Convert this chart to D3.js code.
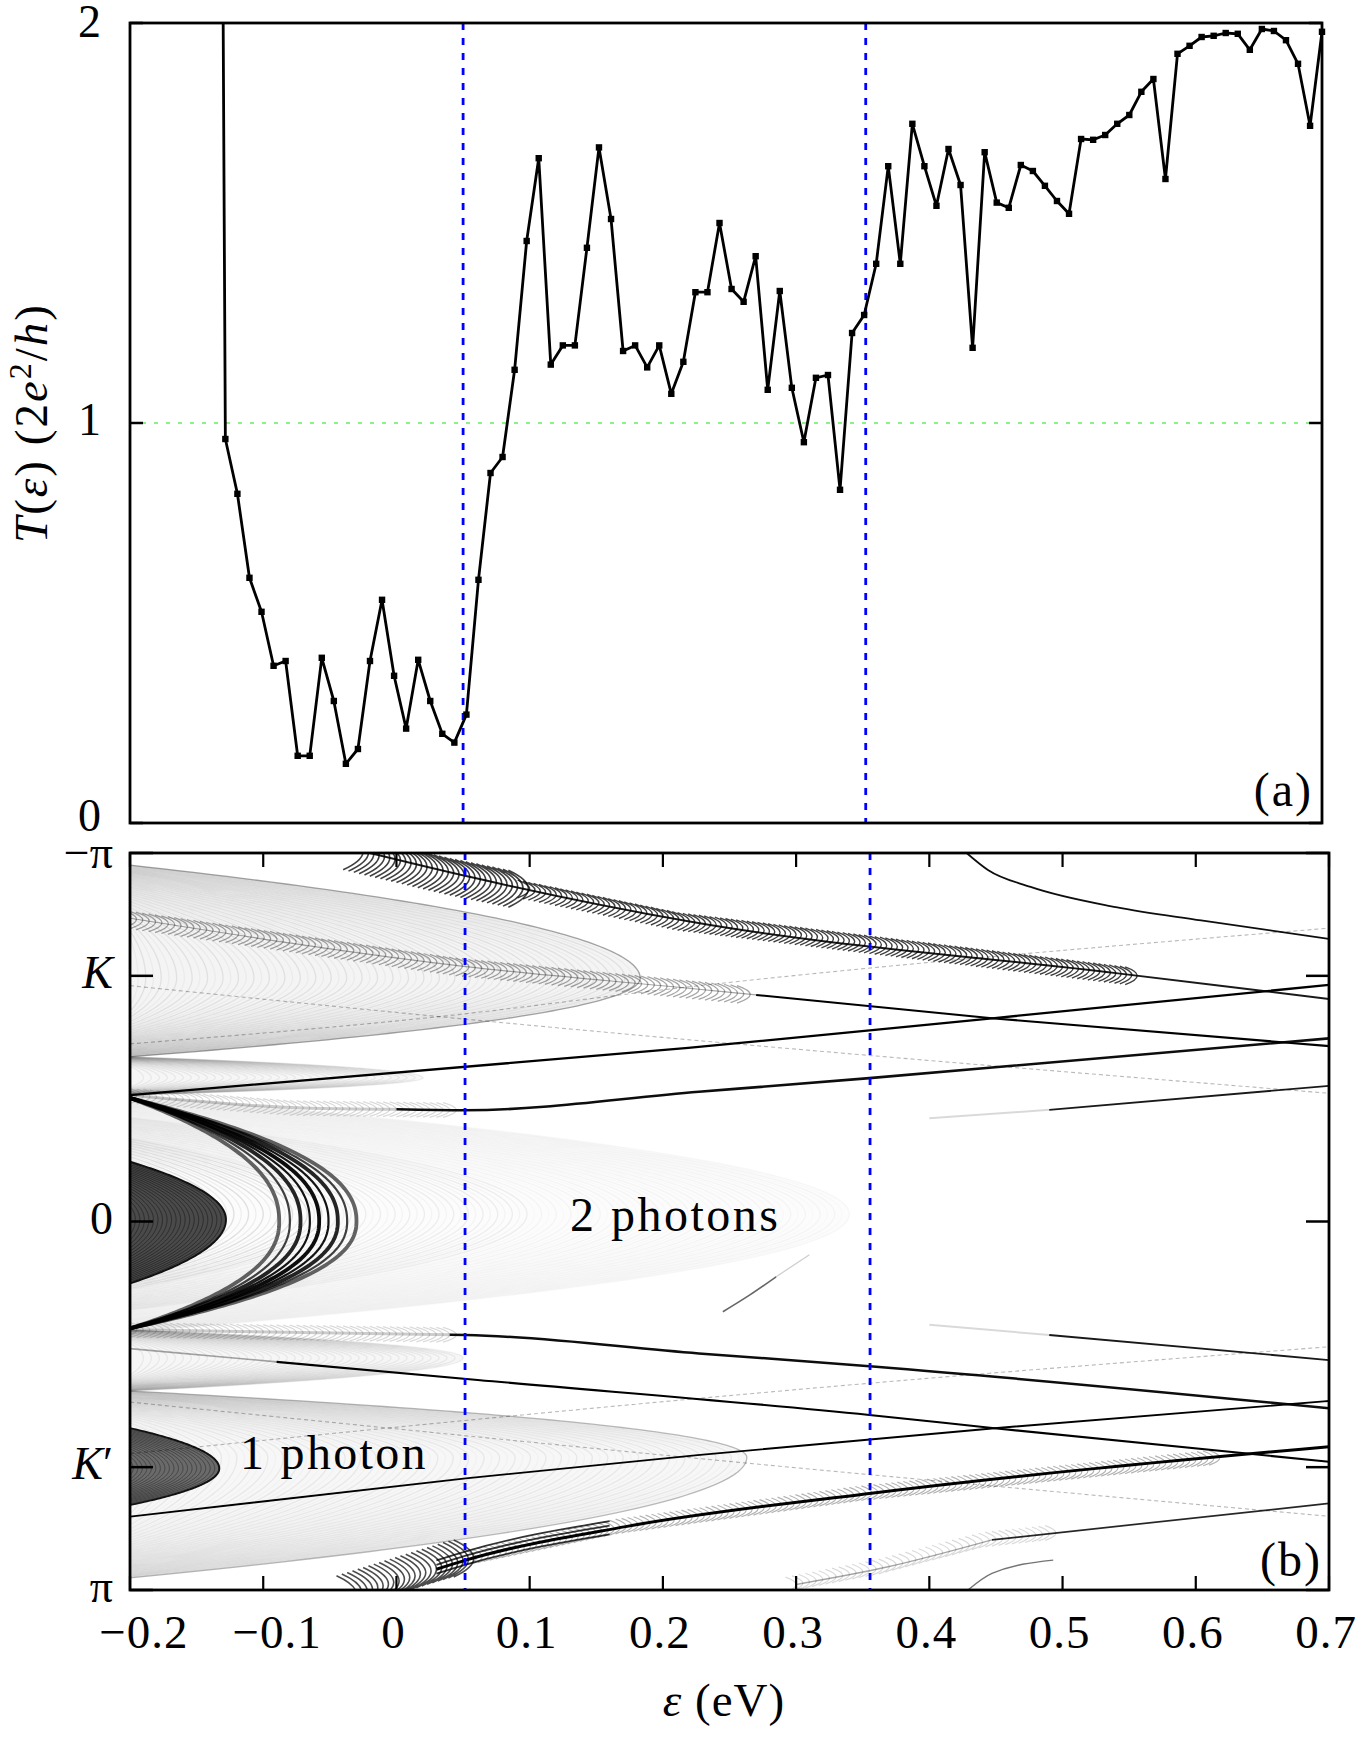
<!doctype html>
<html lang="en">
<head>
    <meta charset="utf-8">
    <title>Transmission and k-resolved map</title>
    <script src="https://cdn.jsdelivr.net/npm/d3@7/dist/d3.min.js"></script>
    <style>
        body { margin: 0; background: #fff; }
        svg text { font-family: "Liberation Serif", "Times New Roman", "DejaVu Serif", serif; fill: #000; }
    </style>
</head>
<body>
<svg id="chart" width="1358" height="1738" font-family="Liberation Serif, Times New Roman, DejaVu Serif, serif"></svg>
<script>
    // ---- panel (a): transmission T(eps), eps in eV, T in 2e^2/h
    const energies = [-0.1371, -0.1280, -0.1189, -0.1098, -0.1007, -0.0916, -0.0825, -0.0734, -0.0643, -0.0552,
        -0.0461, -0.0370, -0.0279, -0.0188, -0.0097, -0.0006, 0.0085, 0.0176, 0.0267, 0.0358,
        0.0449, 0.0540, 0.0631, 0.0722, 0.0813, 0.0904, 0.0995, 0.1086, 0.1177, 0.1268,
        0.1359, 0.1450, 0.1541, 0.1632, 0.1723, 0.1814, 0.1905, 0.1996, 0.2087, 0.2178,
        0.2269, 0.2360, 0.2451, 0.2542, 0.2633, 0.2724, 0.2815, 0.2906, 0.2997, 0.3088,
        0.3179, 0.3270, 0.3361, 0.3452, 0.3543, 0.3634, 0.3725, 0.3816, 0.3907, 0.3998,
        0.4089, 0.4180, 0.4271, 0.4362, 0.4453, 0.4544, 0.4635, 0.4726, 0.4817, 0.4908,
        0.4999, 0.5090, 0.5181, 0.5272, 0.5363, 0.5454, 0.5545, 0.5636, 0.5727, 0.5818,
        0.5909, 0.6000, 0.6091, 0.6182, 0.6273, 0.6364, 0.6455, 0.6546, 0.6637, 0.6728,
        0.6819, 0.6910, 0.7000];
    const transmission = [6.7, 0.960, 0.823, 0.613, 0.528, 0.393, 0.405, 0.168, 0.168, 0.413,
        0.305, 0.148, 0.185, 0.405, 0.558, 0.368, 0.236, 0.408, 0.305, 0.223,
        0.201, 0.271, 0.608, 0.875, 0.915, 1.133, 1.455, 1.662, 1.146, 1.194,
        1.194, 1.438, 1.689, 1.510, 1.180, 1.194, 1.139, 1.194, 1.073, 1.153,
        1.327, 1.327, 1.500, 1.335, 1.303, 1.417, 1.083, 1.330, 1.088, 0.952,
        1.113, 1.120, 0.833, 1.225, 1.270, 1.398, 1.642, 1.398, 1.748, 1.642,
        1.543, 1.685, 1.595, 1.188, 1.677, 1.551, 1.538, 1.645, 1.630, 1.593,
        1.555, 1.523, 1.710, 1.708, 1.720, 1.748, 1.770, 1.828, 1.860, 1.610,
        1.923, 1.943, 1.965, 1.968, 1.975, 1.973, 1.933, 1.985, 1.980, 1.957,
        1.898, 1.743, 1.978];
    const photonLines = [0.0515, 0.3555];
    const energyTicks = [-0.2, -0.1, 0, 0.1, 0.2, 0.3, 0.4, 0.5, 0.6, 0.7];
    const energyTickLabels = ['\u22120.2', '\u22120.1', '0', '0.1', '0.2', '0.3', '0.4', '0.5', '0.6', '0.7'];
    const tTicks = [0, 1, 2];

    // ---- panel (b): map over (eps, k), k in units of pi
    const kTicks = [-1, -2 / 3, 0, 2 / 3, 1];
    const kTickLabels = ['\u2212\u03c0', 'K', '0', 'K\u2032', '\u03c0'];
    // regions: [vertex eps, vertex k, k of upper arm at eps=-0.2, k of lower arm at eps=-0.2]
    const regionCentre = [0.34, -0.02, -0.343, 0.30];
    const regionK = [0.183, -0.66, -0.967, -0.447];
    const regionKp = [0.263, 0.64, 0.46, 0.967];
    const fanTop = [0.02, -0.39, -0.447, -0.343];
    const fanBottom = [0.05, 0.37, 0.294, 0.46];
    const lobeCentre = [-0.128, -0.005, -0.162, 0.168];
    const lobeKp = [-0.133, 0.67, 0.561, 0.769];
    const darkArcVertices = [-0.088, -0.080, -0.072, -0.065, -0.058, -0.051, -0.044, -0.037, -0.030];
    // sharp lines, [eps, k] points
    const lineAtop = [[-0.2, -0.343], [0.219, -0.471], [0.449, -0.552], [0.7, -0.642]];
    const lineAbot = [[-0.2, 0.345], [0.061, 0.43], [0.355, 0.525], [0.449, 0.561], [0.7, 0.652]];
    const lineBtop = [[-0.2, -0.823], [0.054, -0.691], [0.219, -0.633], [0.449, -0.551], [0.7, -0.476]];
    const lineBbot = [[-0.2, 0.801], [0.052, 0.697], [0.226, 0.634], [0.449, 0.561], [0.7, 0.487]];
    const lineCtop = [[-0.2, -0.343], [-0.07, -0.308], [0.052, -0.302], [0.227, -0.352], [0.355, -0.389], [0.7, -0.497]];
    const lineCbot = [[-0.2, 0.294], [0.052, 0.308], [0.227, 0.358], [0.36, 0.394], [0.7, 0.507]];
    const lineC2top = [[0.40, -0.28], [0.49, -0.303], [0.7, -0.368]];
    const lineC2bot = [[0.40, 0.28], [0.49, 0.308], [0.7, 0.376]];
    const lineGtop = [[-0.02, -1.0], [0.054, -0.936], [0.22, -0.814], [0.54, -0.674], [0.7, -0.604]];
    const lineGbot = [[-0.02, 1.0], [0.052, 0.919], [0.172, 0.828], [0.355, 0.738], [0.7, 0.611]];
    const lineDtop = [[0.428, -1.0], [0.444, -0.954], [0.476, -0.908], [0.540, -0.853], [0.604, -0.817], [0.7, -0.767]];
    const lineDbot = [[0.30, 0.985], [0.369, 0.937], [0.447, 0.864], [0.7, 0.765]];
    const arcDbot = [[0.429, 1.0], [0.447, 0.955], [0.493, 0.919]];
    const arcCentreEdge = [[0.245, 0.245], [0.265, 0.2], [0.285, 0.15], [0.31, 0.09]];
    const faintTop1 = [[-0.2, -0.640], [0.032, -0.556], [0.7, -0.348]];
    const faintTop2 = [[-0.2, -0.482], [0.032, -0.556], [0.22, -0.637], [0.7, -0.796]];
    const faintBot1 = [[-0.2, 0.63], [0.355, 0.439], [0.7, 0.34]];
    const faintBot2 = [[-0.2, 0.49], [0.264, 0.656], [0.7, 0.80]];

    const svg = d3.select('#chart');

    // ================= panel (a)
    const xa = d3.scaleLinear().domain([-0.2, 0.7]).range([130, 1322]);
    const ya = d3.scaleLinear().domain([0, 2]).range([823, 23]);

    svg.append('defs').append('clipPath').attr('id', 'clipA')
        .append('rect').attr('x', 130).attr('y', 23).attr('width', 1192).attr('height', 800);

    svg.append('line')
        .attr('x1', xa(-0.2)).attr('x2', xa(0.7)).attr('y1', ya(1)).attr('y2', ya(1))
        .attr('stroke', '#5ef05e').attr('stroke-width', 1.5).attr('stroke-dasharray', '4,8');

    svg.selectAll('.blueA').data(photonLines).enter().append('line')
        .attr('x1', d => xa(d)).attr('x2', d => xa(d)).attr('y1', ya(2)).attr('y2', ya(0))
        .attr('stroke', '#0000ff').attr('stroke-width', 2.8).attr('stroke-dasharray', '7,8');

    const pointsA = d3.zip(energies, transmission);
    svg.append('path')
        .datum(pointsA)
        .attr('clip-path', 'url(#clipA)')
        .attr('fill', 'none').attr('stroke', '#000').attr('stroke-width', 2.8).attr('stroke-linejoin', 'round')
        .attr('d', d3.line().x(d => xa(d[0])).y(d => ya(d[1])));

    svg.append('g').selectAll('rect')
        .data(pointsA.filter(d => d[1] <= 2.02))
        .enter().append('rect')
        .attr('x', d => xa(d[0]) - 3.2).attr('y', d => ya(d[1]) - 3.2)
        .attr('width', 6.4).attr('height', 6.4).attr('fill', '#000');

    svg.append('rect').attr('x', 130).attr('y', 23).attr('width', 1192).attr('height', 800)
        .attr('fill', 'none').attr('stroke', '#000').attr('stroke-width', 2.8);

    tTicks.forEach(t => {
        svg.append('line').attr('x1', xa(-0.2)).attr('x2', xa(-0.2) + 13).attr('y1', ya(t)).attr('y2', ya(t))
            .attr('stroke', '#000').attr('stroke-width', 2.5);
        svg.append('line').attr('x1', xa(0.7)).attr('x2', xa(0.7) - 13).attr('y1', ya(t)).attr('y2', ya(t))
            .attr('stroke', '#000').attr('stroke-width', 2.5);
        svg.append('text').attr('x', 101).attr('y', ya(t) + (t === 0 ? 8 : t === 2 ? 14 : 12))
            .attr('text-anchor', 'end').style('font-size', '46px').text(t);
    });

    const yLabel = svg.append('text')
        .attr('transform', 'translate(47,423) rotate(-90)')
        .attr('text-anchor', 'middle').style('font-size', '47px').style('letter-spacing', '2px');
    yLabel.append('tspan').style('font-style', 'italic').text('T');
    yLabel.append('tspan').text('(');
    yLabel.append('tspan').style('font-style', 'italic').text('\u03b5');
    yLabel.append('tspan').text(') (2');
    yLabel.append('tspan').style('font-style', 'italic').text('e');
    yLabel.append('tspan').attr('dy', -16).style('font-size', '32px').text('2');
    yLabel.append('tspan').attr('dy', 16).text('/');
    yLabel.append('tspan').style('font-style', 'italic').text('h');
    yLabel.append('tspan').text(')');

    svg.append('text').attr('x', 1313).attr('y', 806).attr('text-anchor', 'end')
        .style('font-size', '48px').style('letter-spacing', '2px').text('(a)');

    // ================= panel (b)
    const xb = d3.scaleLinear().domain([-0.2, 0.7]).range([130, 1329]);
    const yb = d3.scaleLinear().domain([-1, 1]).range([853, 1590]);

    svg.select('defs').append('clipPath').attr('id', 'clipB')
        .append('rect').attr('x', 130).attr('y', 853).attr('width', 1199).attr('height', 737);
    const map = svg.append('g').attr('clip-path', 'url(#clipB)');

    const kLine = d3.line().x(d => xb(d[0])).y(d => yb(d[1]));
    const kCurve = d3.line().x(d => xb(d[0])).y(d => yb(d[1])).curve(d3.curveMonotoneX);

    // parabola opening to the left, vertex (ev, kv), arms reach kt / kb at eps=-0.2
    function arc(ev, kv, kt, kb, p, closed) {
        const n = 60, pts = [];
        for (let i = n; i >= 0; i--) {
            const s = (i / n) * (i / n);
            pts.push([ev - (ev + 0.2) * s, kv + (kt - kv) * Math.pow(s, p)]);
        }
        for (let i = 1; i <= n; i++) {
            const s = (i / n) * (i / n);
            pts.push([ev - (ev + 0.2) * s, kv + (kb - kv) * Math.pow(s, p)]);
        }
        return kLine(pts) + (closed ? 'Z' : '');
    }

    function fringes(region, spacing, shrink, opacity, width, fill, edge) {
        const [ev, kv, kt, kb] = region;
        if (fill) map.append('path').attr('d', arc(ev, kv, kt, kb, 0.5, true)).attr('fill', fill)
            .attr('stroke', edge ? '#000' : 'none').attr('stroke-opacity', edge || 0).attr('stroke-width', 1.3);
        const g = map.append('g').attr('fill', 'none').attr('stroke', '#000').attr('stroke-width', width);
        for (let j = 0; ev - j * spacing > -0.195; j++) {
            const evj = ev - j * spacing;
            const f = Math.pow((evj + 0.2) / (ev + 0.2), shrink);
            g.append('path')
                .attr('d', arc(evj, kv, kv + (kt - kv) * f, kv + (kb - kv) * f, 0.5, false))
                .attr('stroke-opacity', opacity(evj, j));
        }
    }

    function kAt(poly, e) {
        for (let i = 1; i < poly.length; i++) {
            if (e <= poly[i][0] || i === poly.length - 1) {
                const [e0, k0] = poly[i - 1], [e1, k1] = poly[i];
                return k0 + (k1 - k0) * (e - e0) / (e1 - e0);
            }
        }
    }

    function part(poly, e0, e1) {
        const pts = [[e0, kAt(poly, e0)]];
        poly.forEach(p => { if (p[0] > e0 && p[0] < e1) pts.push(p); });
        pts.push([e1, kAt(poly, e1)]);
        return pts;
    }

    function feathers(poly, e0, e1, step, h, d, opacity, width) {
        const p = d3.path();
        for (let e = e0; e <= e1; e += step) {
            const k = kAt(poly, e);
            p.moveTo(xb(e - d), yb(k - h));
            p.quadraticCurveTo(xb(e + d), yb(k), xb(e - d), yb(k + h));
        }
        map.append('path').attr('d', p.toString()).attr('fill', 'none')
            .attr('stroke', '#000').attr('stroke-opacity', opacity).attr('stroke-width', width);
    }

    function stroke(pts, width, opacity, dash) {
        map.append('path').attr('d', kCurve(pts)).attr('fill', 'none')
            .attr('stroke', '#000').attr('stroke-width', width).attr('stroke-opacity', opacity)
            .attr('stroke-dasharray', dash || null);
    }

    // soft fringe regions
    fringes(regionCentre, 0.0055, 0.35,
        (e, j) => (e < -0.05 ? 0.11 : e < 0.1 ? 0.06 : 0.03) * (j % 2 ? 0.5 : 1), 1.4, 'rgba(0,0,0,0.012)');
    fringes(regionK, 0.0058, 0.25, (e, j) => (j % 2 ? 0.035 : 0.075), 1.4, 'rgba(0,0,0,0.045)', 0.3);
    fringes(regionKp, 0.0058, 0.25, (e, j) => (j % 2 ? 0.025 : 0.06), 1.4, 'rgba(0,0,0,0.03)', 0.22);
    fringes(fanTop, 0.006, 0.2, () => 0.06, 1.3, 'rgba(0,0,0,0.035)');
    fringes(fanBottom, 0.006, 0.2, () => 0.06, 1.3, 'rgba(0,0,0,0.035)');

    // dark lobes at the band edge
    [[lobeCentre, '#4a4a4a', '#1e1e1e'], [lobeKp, '#6a6a6a', '#333']].forEach(([lobe, fill, ring]) => {
        const [ev, kv, kt, kb] = lobe;
        map.append('path').attr('d', arc(ev, kv, kt, kb, 0.5, true)).attr('fill', fill)
            .attr('stroke', '#111').attr('stroke-width', 2);
        for (let j = 1; ev - j * 0.0034 > -0.198; j++) {
            const evj = ev - j * 0.0034;
            const f = Math.pow((evj + 0.2) / (ev + 0.2), 0.5);
            map.append('path').attr('d', arc(evj, kv, kv + (kt - kv) * f, kv + (kb - kv) * f, 0.5, false))
                .attr('fill', 'none').attr('stroke', ring).attr('stroke-width', 1).attr('stroke-opacity', 0.7);
        }
    });

    // dark fringes around the central lobe
    darkArcVertices.forEach((ev, j) => {
        map.append('path').attr('d', arc(ev, 0, -0.335, 0.29, 0.45, false))
            .attr('fill', 'none').attr('stroke', '#000')
            .attr('stroke-width', j % 2 ? 2.2 : 3.8)
            .attr('stroke-opacity', 0.45 + 0.5 * Math.sin(Math.PI * (j + 1) / (darkArcVertices.length + 1)));
    });

    // faint replica lines
    [faintTop1, faintTop2, faintBot1, faintBot2].forEach(l => stroke(l, 1.1, 0.28, '4,3'));
    stroke(part(arcCentreEdge, 0.245, 0.285), 1.6, 0.6);
    stroke(part(arcCentreEdge, 0.285, 0.31), 1.2, 0.2);

    // feathered fringe bands
    feathers(lineGtop, -0.025, 0.10, 0.004, 0.05, 0.015, 0.75, 1.6);
    feathers(lineGtop, 0.10, 0.56, 0.004, 0.024, 0.009, 0.75, 1.4);
    feathers(lineGbot, -0.03, 0.06, 0.004, 0.05, 0.015, 0.7, 1.6);
    feathers(lineGbot, 0.06, 0.62, 0.0045, 0.02, 0.008, 0.3, 1.2);
    feathers(lineBtop, -0.2, 0.27, 0.0048, 0.024, 0.01, 0.35, 1.3);
    feathers(lineCtop, -0.2, 0.05, 0.005, 0.02, 0.01, 0.15, 1.3);
    feathers(lineCbot, -0.2, 0.05, 0.005, 0.02, 0.01, 0.15, 1.3);
    feathers(lineDbot, 0.30, 0.50, 0.005, 0.02, 0.008, 0.15, 1.2);

    // sharp lines
    stroke(lineAtop, 2.3, 1);
    stroke(part(lineAbot, -0.2, -0.09), 1.6, 0.35);
    stroke(part(lineAbot, -0.09, 0.7), 2.1, 1);
    stroke(part(lineBtop, -0.2, 0.27), 1.2, 0.35);
    stroke(part(lineBtop, 0.27, 0.7), 2.1, 1);
    stroke(lineBbot, 1.9, 1);
    stroke(part(lineCtop, -0.2, 0.0), 3, 0.2);
    stroke(part(lineCtop, 0.0, 0.7), 2.6, 0.95);
    stroke(part(lineCbot, -0.2, 0.04), 3, 0.2);
    stroke(part(lineCbot, 0.04, 0.7), 2.5, 0.95);
    stroke(part(lineC2top, 0.40, 0.49), 2, 0.15);
    stroke(part(lineC2top, 0.49, 0.7), 1.8, 0.9);
    stroke(part(lineC2bot, 0.40, 0.49), 2, 0.15);
    stroke(part(lineC2bot, 0.49, 0.7), 1.8, 0.9);
    stroke(lineGtop, 2, 0.9);
    stroke(part(lineGbot, 0.03, 0.7), 3, 1);
    [-0.024, -0.012, 0.012].forEach(o => stroke(part(lineGbot, 0.03, 0.16).map(p => [p[0], p[1] + o]), 1.8, 0.8));
    stroke(lineDtop, 1.8, 0.95);
    stroke(part(lineDbot, 0.30, 0.447), 1.4, 0.35);
    stroke(part(lineDbot, 0.447, 0.7), 1.7, 0.85);
    stroke(arcDbot, 1.4, 0.55);

    // photon energies
    svg.selectAll('.blueB').data(photonLines).enter().append('line')
        .attr('x1', d => xb(d)).attr('x2', d => xb(d)).attr('y1', yb(-1)).attr('y2', yb(1))
        .attr('stroke', '#0000ff').attr('stroke-width', 2.8).attr('stroke-dasharray', '7,8');

    svg.append('rect').attr('x', 130).attr('y', 853).attr('width', 1199).attr('height', 737)
        .attr('fill', 'none').attr('stroke', '#000').attr('stroke-width', 2.8);

    kTicks.forEach((k, i) => {
        svg.append('line').attr('x1', xb(-0.2)).attr('x2', xb(-0.2) + 23).attr('y1', yb(k)).attr('y2', yb(k))
            .attr('stroke', '#000').attr('stroke-width', 2.5);
        svg.append('line').attr('x1', xb(0.7)).attr('x2', xb(0.7) - 23).attr('y1', yb(k)).attr('y2', yb(k))
            .attr('stroke', '#000').attr('stroke-width', 2.5);
        const lab = svg.append('text').attr('x', 113).attr('y', yb(k) + (i === 0 ? 15 : 12))
            .attr('text-anchor', 'end').style('font-size', '46px');
        if (kTickLabels[i].startsWith('K')) {
            lab.append('tspan').style('font-style', 'italic').text('K');
            lab.append('tspan').text(kTickLabels[i].slice(1));
        } else {
            lab.text(kTickLabels[i]);
        }
    });

    energyTicks.forEach((e, i) => {
        svg.append('line').attr('x1', xb(e)).attr('x2', xb(e)).attr('y1', yb(-1)).attr('y2', yb(-1) + 14)
            .attr('stroke', '#000').attr('stroke-width', 2.2);
        svg.append('line').attr('x1', xb(e)).attr('x2', xb(e)).attr('y1', yb(1)).attr('y2', yb(1) - 14)
            .attr('stroke', '#000').attr('stroke-width', 2.2);
        svg.append('text').attr('x', xb(e) + (e < 0 ? 14 : -3)).attr('y', 1648)
            .attr('text-anchor', 'middle').style('font-size', '47px').style('letter-spacing', '1px')
            .text(energyTickLabels[i]);
    });

    const xLabel = svg.append('text').attr('x', 724).attr('y', 1716)
        .attr('text-anchor', 'middle').style('font-size', '47px').style('letter-spacing', '1px');
    xLabel.append('tspan').style('font-style', 'italic').text('\u03b5');
    xLabel.append('tspan').text(' (eV)');

    svg.append('text').attr('x', 570).attr('y', 1231)
        .style('font-size', '48px').style('letter-spacing', '2.5px').text('2 photons');
    svg.append('text').attr('x', 240).attr('y', 1469)
        .style('font-size', '48px').style('letter-spacing', '2.3px').text('1 photon');
    svg.append('text').attr('x', 1322).attr('y', 1576).attr('text-anchor', 'end')
        .style('font-size', '48px').style('letter-spacing', '2px').text('(b)');
</script>
</body>
</html>
